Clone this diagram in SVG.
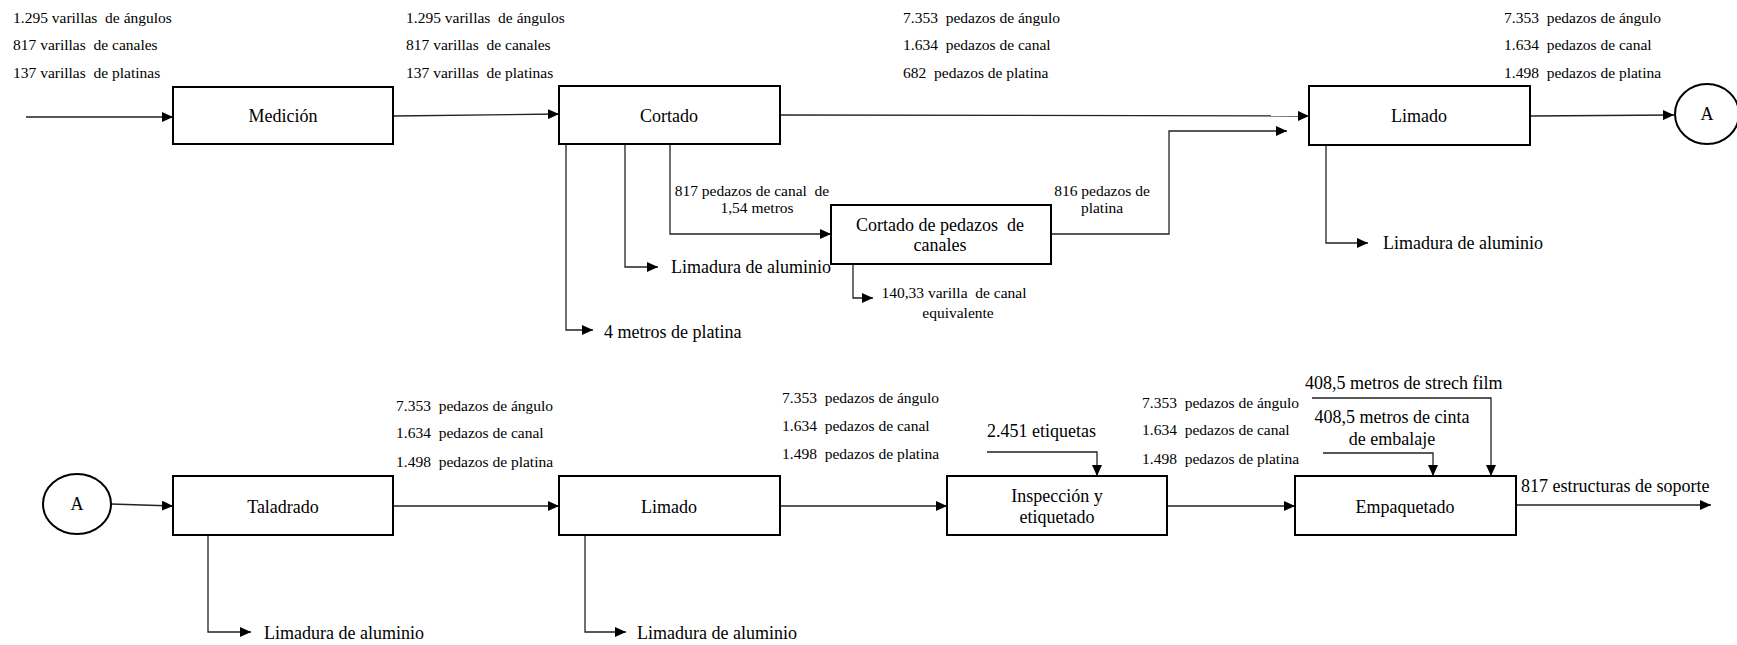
<svg xmlns="http://www.w3.org/2000/svg" width="1737" height="645" viewBox="0 0 1737 645">
<style>
text{font-family:"Liberation Serif","Times New Roman",serif;fill:#000;white-space:pre}
.s{font-size:15.5px}
.m{font-size:18px}
.c{text-anchor:middle}
.box{fill:#fff;stroke:#000;stroke-width:2}
.ln{fill:none;stroke:#222;stroke-width:1.3}
</style>
<defs>
<marker id="ah" markerUnits="userSpaceOnUse" markerWidth="12" markerHeight="10" refX="11" refY="5" orient="auto">
<path d="M0,0 L11,5 L0,10 z" fill="#000"/>
</marker>
</defs>
<rect width="1737" height="645" fill="#fff"/>
<g id="connectors">
<path class="ln" marker-end="url(#ah)" d="M26,117 H173"/>
<path class="ln" marker-end="url(#ah)" d="M393,116 L559,114"/>
<path class="ln" marker-end="url(#ah)" d="M780,115 L1309,116"/>
<path class="ln" marker-end="url(#ah)" d="M1530,116 L1674,115"/>
<path class="ln" marker-end="url(#ah)" d="M566,144 V330 H593"/>
<path class="ln" marker-end="url(#ah)" d="M625,144 V267 H658"/>
<path class="ln" marker-end="url(#ah)" d="M670,144 V234 H831"/>
<path class="ln" marker-end="url(#ah)" d="M1051,234 H1169 V131 H1287"/>
<path class="ln" marker-end="url(#ah)" d="M853,264 V298 H873"/>
<path class="ln" marker-end="url(#ah)" d="M1326,146 V243 H1368"/>
<path class="ln" marker-end="url(#ah)" d="M111,504 L173,506"/>
<path class="ln" marker-end="url(#ah)" d="M393,506 H559"/>
<path class="ln" marker-end="url(#ah)" d="M208,535 V632 H251"/>
<path class="ln" marker-end="url(#ah)" d="M585,535 V632 H626"/>
<path class="ln" marker-end="url(#ah)" d="M780,506 H947"/>
<path class="ln" marker-end="url(#ah)" d="M987,452 H1097 V476"/>
<path class="ln" marker-end="url(#ah)" d="M1167,506 H1295"/>
<path class="ln" marker-end="url(#ah)" d="M1312,398 H1491 V476"/>
<path class="ln" marker-end="url(#ah)" d="M1323,453 H1433 V476"/>
<path class="ln" marker-end="url(#ah)" d="M1516,505 H1711"/>
</g>
<g id="flow-labels">
<text class="s" x="13" y="23">1.295 varillas  de ángulos</text>
<text class="s" x="13" y="50">817 varillas  de canales</text>
<text class="s" x="13" y="78">137 varillas  de platinas</text>
<text class="s" x="406" y="23">1.295 varillas  de ángulos</text>
<text class="s" x="406" y="50">817 varillas  de canales</text>
<text class="s" x="406" y="78">137 varillas  de platinas</text>
<text class="s" x="903" y="23">7.353  pedazos de ángulo</text>
<text class="s" x="903" y="50">1.634  pedazos de canal</text>
<text class="s" x="903" y="78">682  pedazos de platina</text>
<text class="s" x="1504" y="23">7.353  pedazos de ángulo</text>
<text class="s" x="1504" y="50">1.634  pedazos de canal</text>
<text class="s" x="1504" y="78">1.498  pedazos de platina</text>
<text class="s c" x="752" y="196">817 pedazos de canal  de</text>
<text class="s c" x="757" y="213">1,54 metros</text>
<text class="s c" x="1102" y="196">816 pedazos de</text>
<text class="s c" x="1102" y="213">platina</text>
<text class="s c" x="954" y="298">140,33 varilla  de canal</text>
<text class="s c" x="958" y="318">equivalente</text>
<text class="m" x="604" y="338">4 metros de platina</text>
<text class="m" x="671" y="273">Limadura de aluminio</text>
<text class="m" x="1383" y="249">Limadura de aluminio</text>
<text class="s" x="396" y="411">7.353  pedazos de ángulo</text>
<text class="s" x="396" y="438">1.634  pedazos de canal</text>
<text class="s" x="396" y="467">1.498  pedazos de platina</text>
<text class="s" x="782" y="403">7.353  pedazos de ángulo</text>
<text class="s" x="782" y="431">1.634  pedazos de canal</text>
<text class="s" x="782" y="459">1.498  pedazos de platina</text>
<text class="s" x="1142" y="408">7.353  pedazos de ángulo</text>
<text class="s" x="1142" y="435">1.634  pedazos de canal</text>
<text class="s" x="1142" y="464">1.498  pedazos de platina</text>
<text class="m" x="264" y="639">Limadura de aluminio</text>
<text class="m" x="637" y="639">Limadura de aluminio</text>
<text class="m" x="987" y="437">2.451 etiquetas</text>
<text class="m" x="1305" y="389">408,5 metros de strech film</text>
<text class="m c" x="1392" y="423">408,5 metros de cinta</text>
<text class="m c" x="1392" y="445">de embalaje</text>
<text class="m" x="1521" y="492">817 estructuras de soporte</text>
</g>
<g id="n-medicion"><rect class="box" x="173" y="87" width="220" height="57"/><text class="m c" x="283" y="122">Medición</text></g>
<g id="n-cortado"><rect class="box" x="559" y="86" width="221" height="58"/><text class="m c" x="669" y="122">Cortado</text></g>
<g id="n-limado1"><rect class="box" x="1309" y="86" width="221" height="59"/><text class="m c" x="1419" y="122">Limado</text></g>
<g id="n-a1"><ellipse class="box" cx="1707" cy="114" rx="32" ry="30"/><text class="m c" x="1707" y="120">A</text></g>
<g id="n-cortado-canales"><rect class="box" x="831" y="205" width="220" height="59"/><text class="m c" x="940" y="231">Cortado de pedazos  de</text><text class="m c" x="940" y="251">canales</text></g>
<g id="n-a2"><ellipse class="box" cx="77" cy="504" rx="34" ry="30"/><text class="m c" x="77" y="510">A</text></g>
<g id="n-taladrado"><rect class="box" x="173" y="476" width="220" height="59"/><text class="m c" x="283" y="513">Taladrado</text></g>
<g id="n-limado2"><rect class="box" x="559" y="476" width="221" height="59"/><text class="m c" x="669" y="513">Limado</text></g>
<g id="n-inspeccion"><rect class="box" x="947" y="476" width="220" height="59"/><text class="m c" x="1057" y="502">Inspección y</text><text class="m c" x="1057" y="523">etiquetado</text></g>
<g id="n-empaquetado"><rect class="box" x="1295" y="476" width="221" height="59"/><text class="m c" x="1405" y="513">Empaquetado</text></g>
</svg>
